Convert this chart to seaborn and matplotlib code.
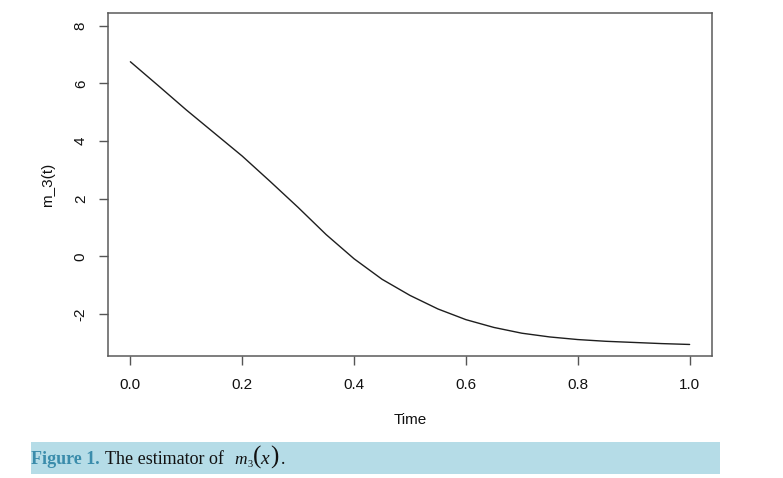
import numpy as np
import pandas as pd
import seaborn as sns
import matplotlib.pyplot as plt

# values, every 0.05
time = [0.00, 0.05, 0.10, 0.15, 0.20, 0.25, 0.30, 0.35, 0.40, 0.45, 0.50,
        0.55, 0.60, 0.65, 0.70, 0.75, 0.80, 0.85, 0.90, 0.95, 1.00]
m3 = [6.75, 5.92, 5.08, 4.28, 3.48, 2.60, 1.70, 0.76, -0.08, -0.79, -1.35,
      -1.82, -2.19, -2.46, -2.66, -2.79, -2.88, -2.94, -2.98, -3.02, -3.05]

x_ticks = [0.0, 0.2, 0.4, 0.6, 0.8, 1.0]
x_tick_labels = ['0.0', '0.2', '0.4', '0.6', '0.8', '1.0']
y_ticks = [-2, 0, 2, 4, 6, 8]

df = pd.DataFrame({'Time': time, 'm_3(t)': m3})

sns.set_style('white')
plt.rcParams['font.family'] = ['Liberation Sans', 'DejaVu Sans']

fig = plt.figure(figsize=(7.83, 4.78), dpi=100)
ax = fig.add_axes([108 / 783, 1 - 356 / 478, 604 / 783, 343 / 478])

sns.lineplot(data=df, x='Time', y='m_3(t)', color='#1e1e1e', linewidth=1.0, ax=ax)

ax.set_xlim(-0.04, 1.04)
ax.set_ylim(-3.45, 8.44)
ax.set_xticks(x_ticks)
ax.set_xticklabels(x_tick_labels)
ax.set_yticks(y_ticks)
ax.set_yticklabels([str(v) for v in y_ticks])
for lab in ax.get_yticklabels():
    lab.set_rotation(90)
    lab.set_va('center')
    lab.set_ha('right')

ax.tick_params(axis='both', direction='out', length=6.5, width=1.0, color='#555555',
               labelsize=11, labelcolor='#111111', bottom=True, left=True)
ax.tick_params(axis='x', pad=9)
ax.tick_params(axis='y', pad=8)
for sp in ax.spines.values():
    sp.set_color('#5a5a5a')
    sp.set_linewidth(1.1)
    sp.set_visible(True)

ax.set_xlabel('Time', fontsize=11, color='#111111')
ax.set_ylabel('m_3(t)', fontsize=11, color='#111111')
ax.xaxis.set_label_coords(0.5, -0.165)
ax.yaxis.set_label_coords(-0.088, 0.5)

# caption band
band = plt.Rectangle((31 / 783, 1 - 474 / 478), 689 / 783, 32 / 478,
                     transform=fig.transFigure, facecolor='#b5dce7', edgecolor='none')
fig.patches.append(band)


def cap(x, y, s, size=13, **kw):
    fig.text(x / 783, 1 - y / 478, s, family='Liberation Serif', fontsize=size,
             va='baseline', color=kw.pop('color', '#111111'), **kw)


cap(31, 464, 'Figure 1.', weight='bold', color='#3a8cab')
cap(105, 464, 'The estimator of')
cap(234.5, 464, 'm', size=12.5, style='italic')
cap(247.5, 467, '3', size=7.5)
cap(252.5, 463.5, '(', size=18)
cap(260, 464, 'x', size=14, style='italic')
cap(270.5, 463.5, ')', size=18)
cap(280.5, 464, '.')

fig.savefig('out.png', dpi=100)
